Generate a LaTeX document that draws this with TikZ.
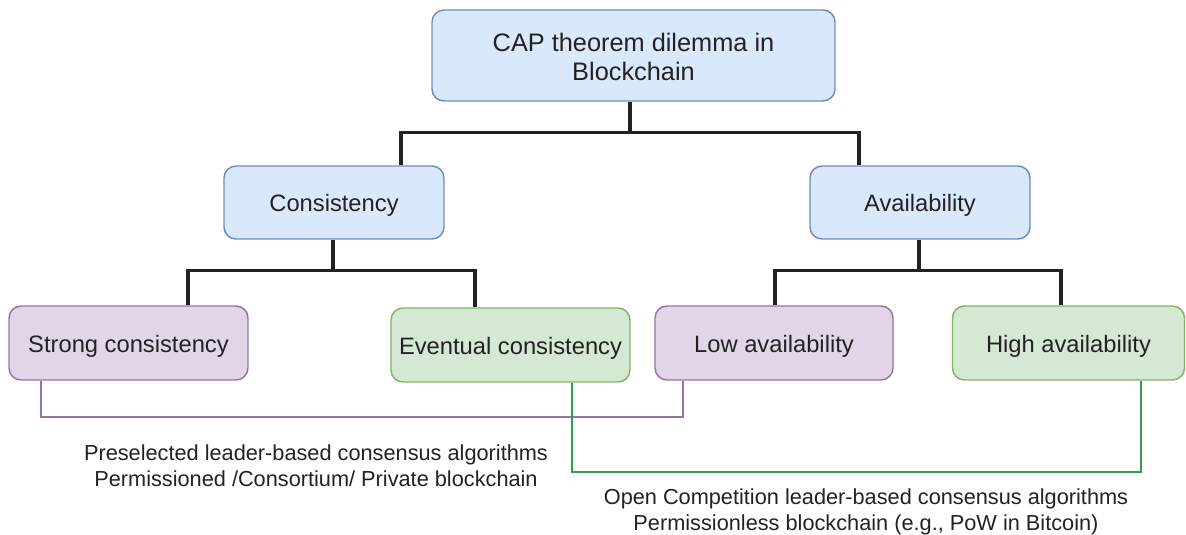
\documentclass[tikz,border=0pt]{standalone}
\usepackage{fontspec}
\setmainfont{Liberation Sans}
\usetikzlibrary{calc}
\definecolor{bluefill}{HTML}{DAE8FC}
\definecolor{bluedraw}{HTML}{6C8EBF}
\definecolor{purplefill}{HTML}{E1D5E7}
\definecolor{purpledraw}{HTML}{9673A6}
\definecolor{greenfill}{HTML}{D5E8D4}
\definecolor{greendraw}{HTML}{82B366}
\definecolor{greenlink}{HTML}{2E9E4F}
\definecolor{inkdark}{HTML}{222222}
\tikzset{
  box/.style={rounded corners=9pt, line width=1.1pt, align=center, text=inkdark,
              font=\fontsize{17.8pt}{21pt}\selectfont, inner sep=0pt},
  oneline/.style={text height=17.5pt, text depth=4pt},
  bluebox/.style={box, fill=bluefill, draw=bluedraw},
  purplebox/.style={box, oneline, fill=purplefill, draw=purpledraw},
  greenbox/.style={box, oneline, fill=greenfill, draw=greendraw},
  tree/.style={line width=2.6pt, draw=inkdark},
  purplelink/.style={line width=1.3pt, draw=purpledraw},
  greenlink/.style={line width=1.3pt, draw=greenlink},
  note/.style={align=center, text=inkdark, font=\fontsize{16.3pt}{19.5pt}\selectfont, inner sep=0pt}
}
\begin{document}
\begin{tikzpicture}[x=0.75pt, y=-0.75pt]
\useasboundingbox (0,0) rectangle (1186,535);

% root
\node[bluebox, minimum width=302.25pt, minimum height=68.25pt,
      font=\fontsize{19pt}{21.75pt}\selectfont] (top) at (633.5,55.5)
      {\rule{0pt}{16pt}CAP theorem dilemma in\\Blockchain};

% second level
\node[bluebox, oneline, minimum width=165pt, minimum height=54.75pt] (cons) at (334,202.5) {Consistency};
\node[bluebox, oneline, minimum width=165pt, minimum height=54.75pt] (avail) at (920,202.5) {Availability};

% leaves
\node[purplebox, minimum width=179.25pt, minimum height=55.5pt] (strong) at (128.5,343) {Strong consistency};
\node[greenbox, minimum width=179.25pt, minimum height=55.5pt] (even) at (510.5,345) {Eventual consistency};
\node[purplebox, minimum width=178.5pt, minimum height=55.5pt] (low) at (774,343) {Low availability};
\node[greenbox, minimum width=174pt, minimum height=55.5pt] (high) at (1068.5,343) {High availability};

% tree connectors
\coordinate (j1) at ($(top.south)+(-3.5,31)$);
\coordinate (j2) at ($(cons.south)+(-1,31)$);
\coordinate (j3) at ($(avail.south)+(-1,31)$);
\draw[tree] ($(top.south)+(-3.5,0)$) -- (j1);
\draw[tree] ($(cons.north)+(67,0)$) |- (j1) -| ($(avail.north)+(-61,0)$);
\draw[tree] ($(cons.south)+(-1,0)$) -- (j2);
\draw[tree] ($(strong.north)+(59.5,0)$) |- (j2) -| ($(even.north)+(-35.5,0)$);
\draw[tree] ($(avail.south)+(-1,0)$) -- (j3);
\draw[tree] ($(low.north)+(1,0)$) |- (j3) -| ($(high.north)+(-7.5,0)$);

% groupings
\draw[purplelink] ($(strong.south)+(-87.5,0)$) -- ++(0,36) coordinate (p1) -| ($(low.south)+(-91,0)$);
\draw[greenlink] ($(even.south)+(61.5,0)$) -- ++(0,89) coordinate (g1) -| ($(high.south)+(72.5,0)$);

% captions
\node[note] (capA) at (316,465.5) {Preselected leader-based consensus algorithms\\Permissioned /Consortium/ Private blockchain};
\node[note] (capB) at (866,512) {Open Competition leader-based consensus algorithms\\Permissionless blockchain (e.g., PoW in Bitcoin)};
\end{tikzpicture}
\end{document}
